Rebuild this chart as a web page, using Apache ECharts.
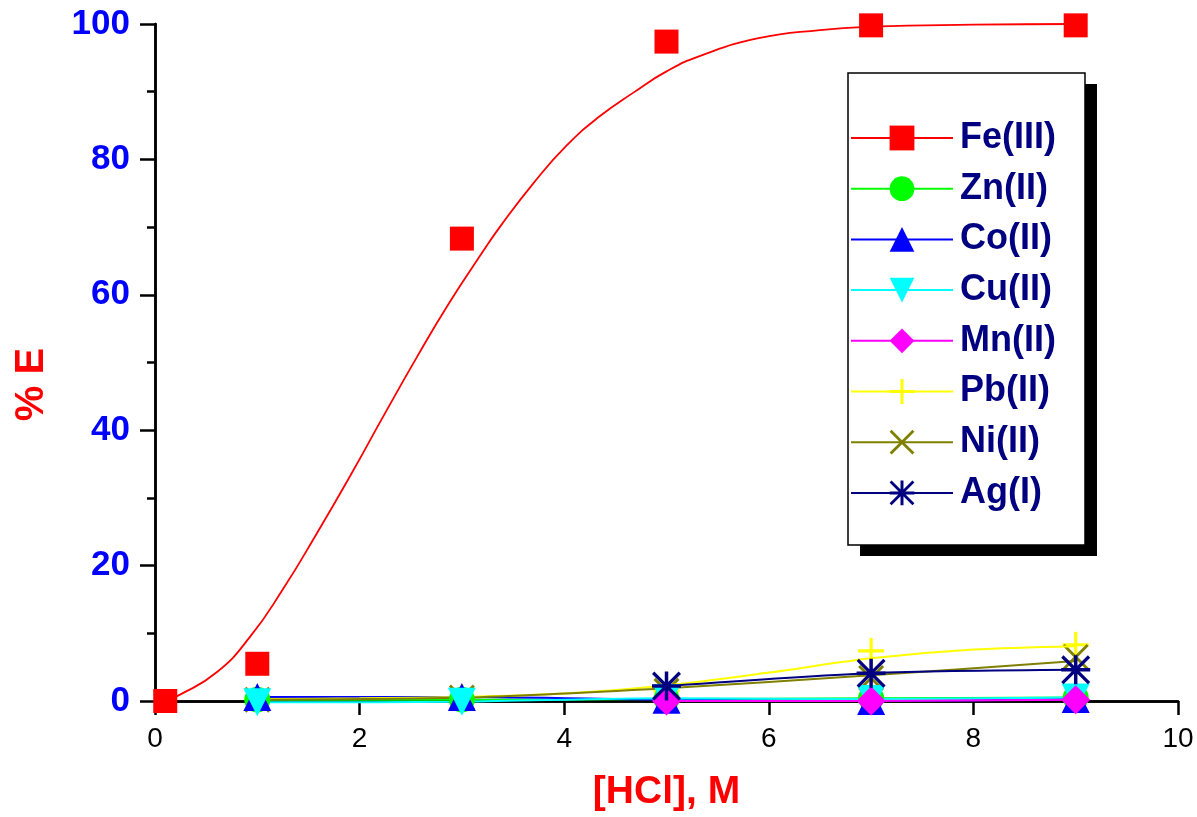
<!DOCTYPE html>
<html>
<head>
<meta charset="utf-8">
<script src="https://cdn.jsdelivr.net/npm/echarts@6/dist/echarts.min.js"></script>
<style>
html,body{margin:0;padding:0;background:#fff;}
#chart{width:1197px;height:817px;}
</style>
</head>
<body>
<div id="chart"></div>
<script>
// ---- data ----
const xTicks = [0, 2, 4, 6, 8, 10];
const yTicks = [0, 20, 40, 60, 80, 100];
const names = ['Fe(III)', 'Zn(II)', 'Co(II)', 'Cu(II)', 'Mn(II)', 'Pb(II)', 'Ni(II)', 'Ag(I)'];

const hclX = [1, 3, 5, 7, 9];
const hclX3 = [5, 7, 9];

const feX = [0.1, 1, 3, 5, 7, 9];
const feY = [0, 5.5, 68.3, 97.4, 99.8, 99.8];
const feFitX = [0.1, 0.24, 0.6, 0.93, 1.25, 1.58, 1.91, 2.23, 2.56, 2.88, 3.21, 3.37, 3.7, 4.02, 4.35, 4.68, 5.0, 5.33, 5.9, 6.5, 7.0, 8.0, 9.0];
const feFitY = [0, 0.9, 4.2, 9.5, 16.5, 24.7, 33.3, 42.0, 50.8, 58.9, 66.5, 70.0, 76.5, 82.0, 86.4, 89.9, 93.0, 95.3, 97.9, 99.1, 99.6, 99.9, 100];

const znY = [0.2, 0.2, 0.3, 0.4, 0.5];
const coY = [0.6, 0.6, 0.2, 0.0, 0.3];
const cuY = [-0.2, -0.1, 0.4, 0.3, 0.5];
const mnY = [0.0, 0.0, 0.2];

const pbY = [0.3, 0.5, 1.5, 7.4, 8.3];
const pbFitX = [1, 2, 3, 4, 5, 6, 7, 8, 9];
const pbFitY = [0.3, 0.4, 0.6, 1.1, 2.3, 4.2, 6.3, 7.6, 8.1];

const niY = [0.2, 0.5, 1.5, 3.4, 6.5];
const niFitX = [1, 3, 5, 7, 9];
const niFitY = [0.2, 0.5, 1.9, 3.8, 5.9];

const agY = [2.2, 4.1, 4.6];

const colors = {
  'Fe(III)': '#FF0000', 'Zn(II)': '#00FF00', 'Co(II)': '#0000FF', 'Cu(II)': '#00FFFF',
  'Mn(II)': '#FF00FF', 'Pb(II)': '#FFFF00', 'Ni(II)': '#808000', 'Ag(I)': '#000080'
};

// ---- symbols ----
const PLUS = 'path://M44,0H56V44H100V56H56V100H44V56H0V44H44Z';
const CROSS = 'path://M0,8L8,0L50,42L92,0L100,8L58,50L100,92L92,100L50,58L8,100L0,92L42,50Z';
const STAR = 'path://M44,0H56V100H44Z M0,44H100V56H0Z M0,8L8,0L100,92L92,100Z M92,0L100,8L8,100L0,92Z';
const TRI_DOWN = 'path://M0,0L100,0L50,90Z';

function zip(xs, ys) { return xs.map((x, i) => [x, ys[i]]); }

const FONT = "'Liberation Sans', Arial, sans-serif";

function lineSeries(name, data, symbol, size, extra) {
  return Object.assign({
    name: name,
    type: 'line',
    data: data,
    symbol: symbol,
    symbolSize: size,
    smooth: 0.3,
    clip: false,
    color: colors[name],
    lineStyle: { width: 2, color: colors[name] },
    itemStyle: { color: colors[name] },
    emphasis: { disabled: true },
    animation: false
  }, extra || {});
}
function scatterSeries(name, data, symbol, size) {
  return {
    name: name + ' data',
    type: 'scatter',
    data: data,
    symbol: symbol,
    symbolSize: size,
    clip: false,
    itemStyle: { color: colors[name], opacity: 1 },
    emphasis: { disabled: true },
    animation: false
  };
}

const series = [
  lineSeries('Fe(III)', zip(feFitX, feFitY), 'rect', 24, { showSymbol: false, smooth: 0.5, lineStyle: { width: 1.8, color: colors['Fe(III)'] } }),
  scatterSeries('Fe(III)', zip(feX, feY), 'rect', 24),
  lineSeries('Zn(II)', zip(hclX, znY), 'circle', 26),
  lineSeries('Co(II)', zip(hclX, coY), 'triangle', 28),
  lineSeries('Cu(II)', zip(hclX, cuY), TRI_DOWN, 28),
  lineSeries('Mn(II)', zip(hclX3, mnY), 'diamond', 29),
  lineSeries('Pb(II)', zip(pbFitX, pbFitY), PLUS, 26, { showSymbol: false }),
  scatterSeries('Pb(II)', zip(hclX, pbY), PLUS, 26),
  lineSeries('Ni(II)', zip(niFitX, niFitY), CROSS, 26, { showSymbol: false }),
  scatterSeries('Ni(II)', zip(hclX, niY), CROSS, 26),
  lineSeries('Ag(I)', zip(hclX3, agY), STAR, 29)
];

const legendBase = {
  data: names,
  orient: 'vertical',
  left: 848,
  top: 73,
  itemWidth: 102,
  itemHeight: 31,
  itemGap: 14.7,
  padding: [47, 29, 34, 2],
  selectedMode: false
};
const legendText = { fontWeight: 'bold', fontSize: 36, fontFamily: FONT, padding: [0, 0, 0, 2] };

const chart = echarts.init(document.getElementById('chart'), null, { renderer: 'canvas' });
chart.setOption({
  backgroundColor: '#ffffff',
  animation: false,
  grid: { left: 155, right: 19, top: 24, bottom: 114, containLabel: false },
  legend: [
    Object.assign({}, legendBase, {
      z: 4,
      backgroundColor: '#ffffff',
      borderWidth: 0,
      shadowColor: '#000000',
      shadowBlur: 0,
      shadowOffsetX: 12,
      shadowOffsetY: 11,
      textStyle: Object.assign({ color: '#000080' }, legendText)
    }),
    Object.assign({}, legendBase, {
      z: 5,
      backgroundColor: 'transparent',
      borderColor: '#000000',
      borderWidth: 1.5,
      itemStyle: { opacity: 0 },
      lineStyle: { opacity: 0 },
      textStyle: Object.assign({ color: 'rgba(0,0,0,0)' }, legendText)
    })
  ],
  xAxis: [{
    type: 'value',
    min: 0, max: 10, interval: 2,
    name: '[HCl], M',
    nameLocation: 'middle',
    nameGap: 72,
    nameTextStyle: { color: '#FF0000', fontWeight: 'bold', fontSize: 39, fontFamily: FONT, lineHeight: 39 },
    axisLine: { show: true, onZero: false, lineStyle: { color: '#000', width: 2.5 } },
    axisTick: { show: true, inside: false, length: 14, lineStyle: { color: '#000', width: 2.5 } },
    axisLabel: { show: true, margin: 24, color: '#000', fontSize: 28, fontFamily: FONT, formatter: v => xTicks.includes(v) ? String(v) : '' },
    splitLine: { show: false }
  }, {
    type: 'value', position: 'top', min: 0, max: 10,
    axisLine: { show: true, lineStyle: { color: '#000', width: 2.5 } },
    axisTick: { show: false }, axisLabel: { show: false }, splitLine: { show: false }
  }],
  yAxis: [{
    type: 'value',
    min: 0, max: 100, interval: 20,
    name: '% E',
    nameLocation: 'middle',
    nameRotate: 90,
    nameGap: 103,
    nameTextStyle: { color: '#FF0000', fontWeight: 'bold', fontSize: 40, fontFamily: FONT, lineHeight: 40, padding: [0, 44, 0, 0] },
    axisLine: { show: true, onZero: false, lineStyle: { color: '#000', width: 2.5 } },
    axisTick: { show: true, inside: false, length: 15, lineStyle: { color: '#000', width: 2.5 } },
    minorTick: { show: true, splitNumber: 2, length: 8, lineStyle: { color: '#000', width: 2.5 } },
    axisLabel: { show: true, margin: 25, color: '#0000FF', fontWeight: 'bold', fontSize: 35, fontFamily: FONT, formatter: v => yTicks.includes(v) ? String(v) : '' },
    splitLine: { show: false }
  }, {
    type: 'value', position: 'right', min: 0, max: 100,
    axisLine: { show: true, lineStyle: { color: '#000', width: 2.5 } },
    axisTick: { show: false }, axisLabel: { show: false }, splitLine: { show: false }
  }],
  series: series
});
</script>
</body>
</html>
